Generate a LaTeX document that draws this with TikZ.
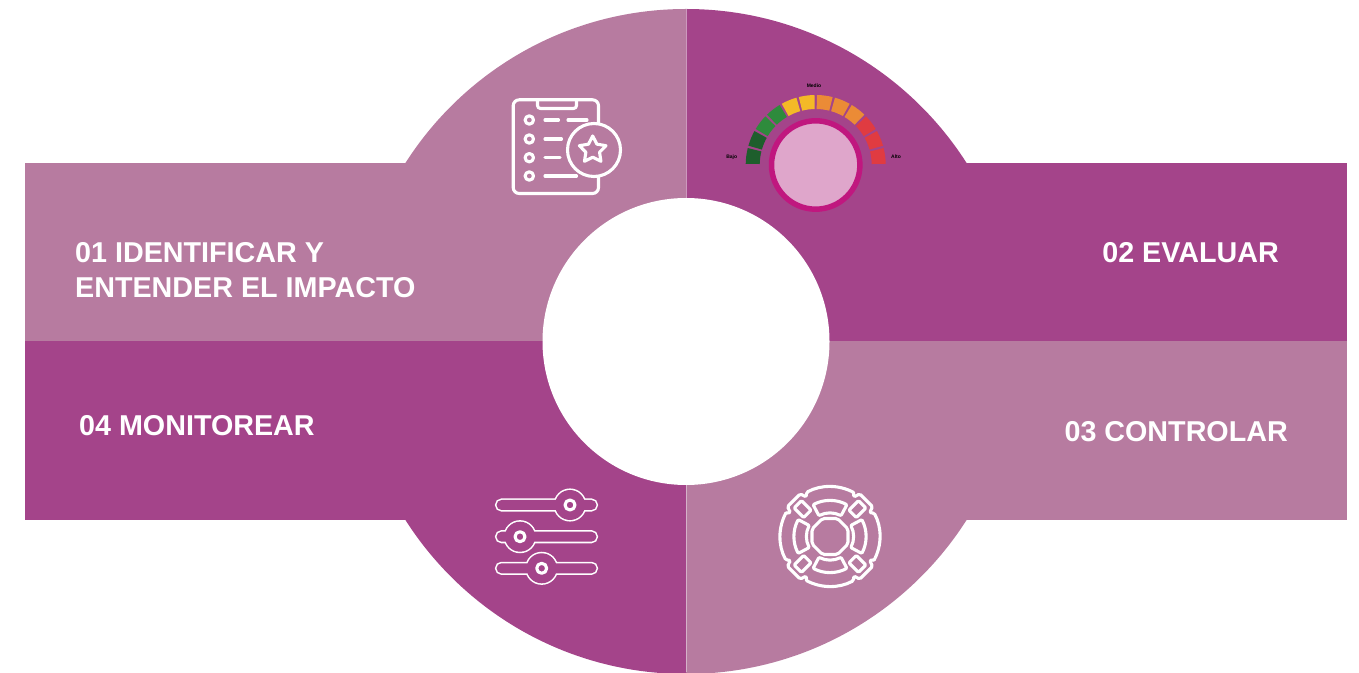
\documentclass[tikz,border=0pt]{standalone}
\usepackage{fontspec}
\setmainfont{Liberation Sans}
\usepackage{tikz}

\definecolor{mauvelight}{RGB}{183,123,160}
\definecolor{mauvedark}{RGB}{164,68,138}
\definecolor{knobring}{RGB}{192,23,127}
\definecolor{knobfill}{RGB}{223,166,203}
\definecolor{gdarkgreen}{RGB}{30,94,44}
\definecolor{ggreen}{RGB}{46,139,60}
\definecolor{gyellow}{RGB}{244,185,39}
\definecolor{gorange}{RGB}{235,139,54}
\definecolor{gred}{RGB}{224,59,65}

\begin{document}
\begin{tikzpicture}[x=1pt, y=1pt,
    steptext/.style={text=white, font=\bfseries\fontsize{28.7}{35}\selectfont, inner sep=0pt},
    gaugelabel/.style={font=\bfseries\fontsize{5}{6}\selectfont, inner sep=0pt},
    iconline/.style={draw=white, line width=3.1pt, line cap=round, line join=round}
  ]
  \useasboundingbox (0,0) rectangle (1359,672);
  \coordinate (c) at (686,330.5);

  % Quadrants: band + disc
  \fill[mauvelight] (25,330.5) rectangle (686,509);
  \fill[mauvelight] (c) -- ++(90:332.5) arc[start angle=90, end angle=180, radius=332.5] -- cycle;
  \fill[mauvedark] (686,330.5) rectangle (1347,509);
  \fill[mauvedark] (c) -- ++(0:332.5) arc[start angle=0, end angle=90, radius=332.5] -- cycle;
  \fill[mauvelight] (686,152) rectangle (1347,330.5);
  \fill[mauvelight] (c) -- ++(270:332.5) arc[start angle=270, end angle=360, radius=332.5] -- cycle;
  \fill[mauvedark] (25,152) rectangle (686,330.5);
  \fill[mauvedark] (c) -- ++(180:332.5) arc[start angle=180, end angle=270, radius=332.5] -- cycle;

  % Hole and divider
  \fill[white] (c) circle[radius=143.5];
  \draw[white, opacity=0.45, line width=0.8pt] (686,672) -- (686,0);

  % Gauge
  \coordinate (gauge) at (815.7,507);
  \foreach \i/\col in {0/gdarkgreen,1/gdarkgreen,2/ggreen,3/ggreen,4/gyellow,5/gyellow,
                       6/gorange,7/gorange,8/gorange,9/gred,10/gred,11/gred}{
    \pgfmathsetmacro\sa{179-15*\i}
    \pgfmathsetmacro\ea{\sa-13}
    \fill[\col] ([shift={(\sa:56)}]gauge) arc[start angle=\sa, end angle=\ea, radius=56]
      -- ([shift={(\ea:70)}]gauge) arc[start angle=\ea, end angle=\sa, radius=70] -- cycle;
  }
  \fill[knobfill] (gauge) circle[radius=42];
  \draw[knobring, line width=5.5pt] (gauge) circle[radius=44.2];
  \node[gaugelabel] (bajo) at (731.7,514.7) {Bajo};
  \node[gaugelabel] (medio) at (814,586) {Medio};
  \node[gaugelabel] (alto) at (896,515) {Alto};

  % Clipboard icon
  \draw[iconline, rounded corners=6pt] (513.2,478.5) rectangle (598.5,572.2);
  \draw[iconline, rounded corners=3pt] (537.5,572.2) -- (537.5,563.5) -- (576.5,563.5) -- (576.5,572.2);
  \foreach \yy in {552,533,514.3,496}
    \draw[iconline] (529.3,\yy) circle[radius=4.2];
  \draw[iconline] (545,552) -- (558.5,552) (568,552) -- (587,552);
  \draw[iconline] (545,533) -- (561.5,533);
  \draw[iconline] (545,514.3) -- (560,514.3);
  \draw[iconline] (545,496) -- (576.5,496);
  \filldraw[iconline, fill=mauvelight] (594,522) circle[radius=26.5];
  \draw[iconline, shift={(592.7,522)}] (90:14) -- (126:7.2) -- (162:14) -- (198:7.2)
    -- (234:14) -- (270:7.2) -- (306:14) -- (342:7.2) -- (18:14) -- (54:7.2) -- cycle;

  % Lifebuoy icon
  \begin{scope}[shift={(830,135.5)}]
    \foreach \b in {0,90,180,270}{
      \draw[iconline, rounded corners=1.5pt] ({\b-28}:50) arc[start angle=\b-28, end angle=\b+28, radius=50]
        -- ({\b+31}:46) -- ({\b+35}:52) -- ({\b+55}:52) -- ({\b+59}:46) -- ({\b+62}:50);
      \draw[iconline, rounded corners=1pt] ({\b-28}:23.5) arc[start angle=\b-28, end angle=\b+28, radius=23.5]
        -- ({\b+28}:36) arc[start angle=\b+28, end angle=\b-28, radius=36] -- cycle;
      \draw[iconline, rounded corners=1pt, rotate=\b+45] (32,-5.2) rectangle (45.5,5.2);
    }
    \draw[iconline, rounded corners=2pt] (22.5:19.5) -- (67.5:19.5) -- (112.5:19.5) -- (157.5:19.5)
      -- (202.5:19.5) -- (247.5:19.5) -- (292.5:19.5) -- (337.5:19.5) -- cycle;
  \end{scope}

  % Sliders icon
  \foreach \yy/\kx in {167/570, 135.3/520, 103.7/541.7}{
    \draw[white, line width=3.1pt, rounded corners=5pt] (496.5,\yy-5) rectangle (596.5,\yy+5);
    \draw[white, line width=3.1pt] (\kx,\yy) circle[radius=15];
    \fill[mauvedark, rounded corners=5pt] (496.5,\yy-5) rectangle (596.5,\yy+5);
    \fill[mauvedark] (\kx,\yy) circle[radius=15];
    \draw[iconline] (\kx,\yy) circle[radius=5];
  }

  % Step titles
  \node[steptext, anchor=north west, align=left] (identificar) at (75,430) {01 IDENTIFICAR Y\\ENTENDER EL IMPACTO};
  \node[steptext, anchor=base east] (evaluar) at (1279,409.3) {02 EVALUAR};
  \node[steptext, anchor=base east] (controlar) at (1288,230.3) {03 CONTROLAR};
  \node[steptext, anchor=base west] (monitorear) at (79,236) {04 MONITOREAR};
\end{tikzpicture}
\end{document}
